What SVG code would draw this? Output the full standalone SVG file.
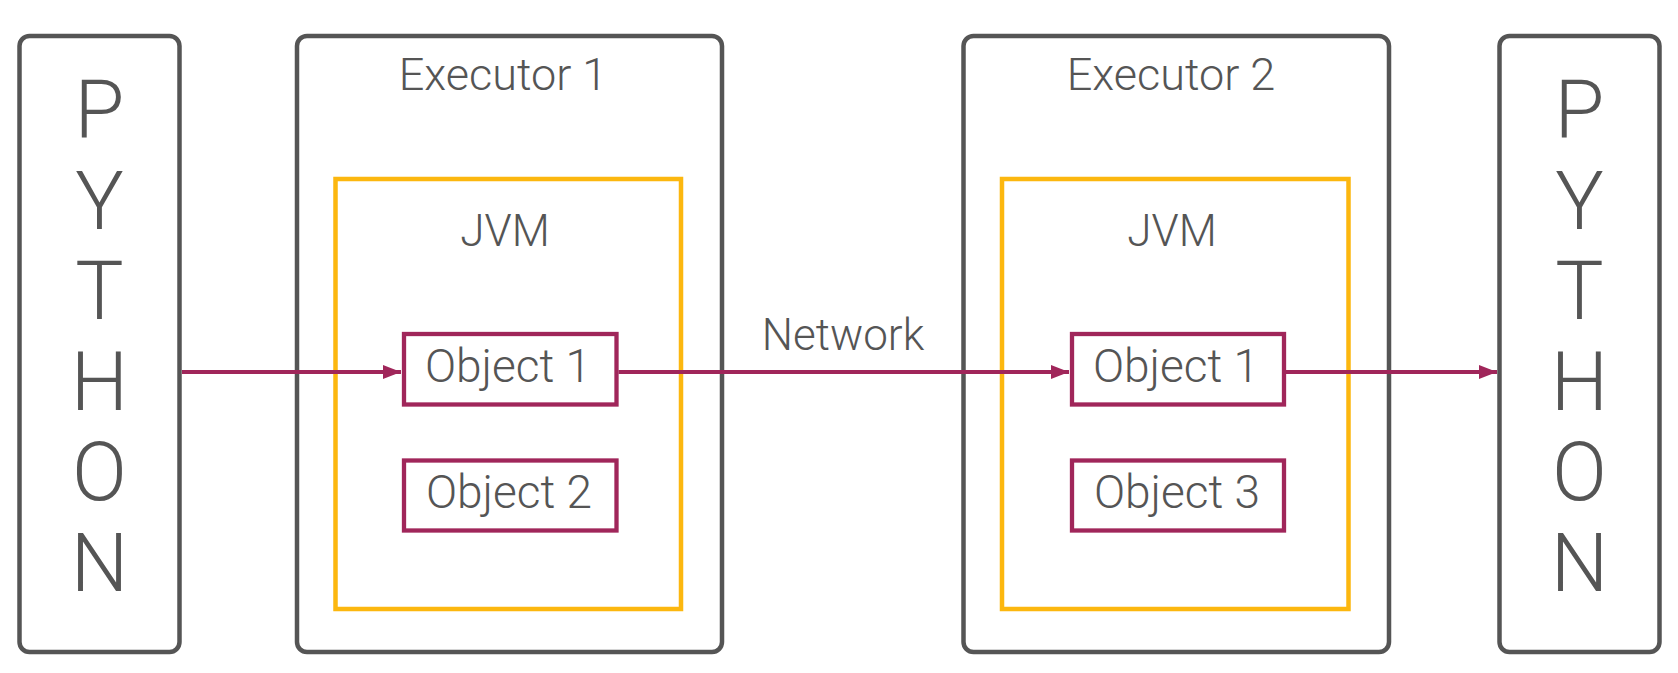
<svg xmlns="http://www.w3.org/2000/svg" width="1678" height="673" viewBox="0 0 1678 673">
<style>
.gbox{fill:#fff;stroke:#555;stroke-width:4.5}
.jvm{fill:none;stroke:#FCB70F;stroke-width:4.5}
.obj{fill:#fff;stroke:#A0265A;stroke-width:4.3}
.t{font-family:Roboto,"Liberation Sans",sans-serif;font-weight:300;fill:#555;font-size:44px;text-anchor:middle}
.ex{font-size:45px}
.ob{font-size:46px}
.big{font-size:81px}
.conn{stroke:#A0265A;stroke-width:4;fill:none}
</style>
<defs>
<marker id="ah" markerUnits="userSpaceOnUse" markerWidth="18" markerHeight="14" refX="18" refY="7" orient="auto">
<polygon points="0,0 18,7 0,14" fill="#A0265A"/>
</marker>
</defs>
<rect width="1678" height="673" fill="#fff"/>
<g id="python-left">
<rect class="gbox" x="19.5" y="36" width="160" height="616" rx="10"/>
<text class="t big" x="99.5" y="138">P</text>
<text class="t big" x="99.5" y="228.5">Y</text>
<text class="t big" x="99.5" y="319">T</text>
<text class="t big" x="99.5" y="409.5">H</text>
<text class="t big" x="99.5" y="500">O</text>
<text class="t big" x="99.5" y="590.5">N</text>
</g>
<g id="executor-1">
<rect class="gbox" x="297" y="36" width="425" height="616" rx="10"/>
<text class="t ex" x="503" y="90">Executor 1</text>
</g>
<g id="jvm-1">
<rect class="jvm" x="335.5" y="179" width="345.5" height="430"/>
<text class="t" x="505" y="246">JVM</text>
</g>
<g id="e1-object-1">
<rect class="obj" x="404" y="334" width="212.5" height="70.5"/>
<text class="t ob" x="508" y="382">Object 1</text>
</g>
<g id="e1-object-2">
<rect class="obj" x="404" y="460.5" width="212.5" height="70"/>
<text class="t ob" x="509" y="508">Object 2</text>
</g>
<g id="executor-2">
<rect class="gbox" x="963.5" y="36" width="425.5" height="616" rx="10"/>
<text class="t ex" x="1171" y="90">Executor 2</text>
</g>
<g id="jvm-2">
<rect class="jvm" x="1002" y="179" width="346.5" height="430"/>
<text class="t" x="1172" y="246">JVM</text>
</g>
<g id="e2-object-1">
<rect class="obj" x="1072" y="334" width="212" height="70.5"/>
<text class="t ob" x="1176" y="382">Object 1</text>
</g>
<g id="e2-object-3">
<rect class="obj" x="1072" y="460.5" width="212" height="70"/>
<text class="t ob" x="1177" y="508">Object 3</text>
</g>
<g id="python-right">
<rect class="gbox" x="1499.5" y="36" width="160" height="616" rx="10"/>
<text class="t big" x="1579.5" y="138">P</text>
<text class="t big" x="1579.5" y="228.5">Y</text>
<text class="t big" x="1579.5" y="319">T</text>
<text class="t big" x="1579.5" y="409.5">H</text>
<text class="t big" x="1579.5" y="500">O</text>
<text class="t big" x="1579.5" y="590.5">N</text>
</g>
<g id="connectors">
<line class="conn" x1="182" y1="372" x2="401" y2="372" marker-end="url(#ah)"/>
<line class="conn" x1="618.5" y1="372" x2="1069" y2="372" marker-end="url(#ah)"/>
<text class="t" x="843" y="350">Network</text>
<line class="conn" x1="1286" y1="372" x2="1497" y2="372" marker-end="url(#ah)"/>
</g>
</svg>
